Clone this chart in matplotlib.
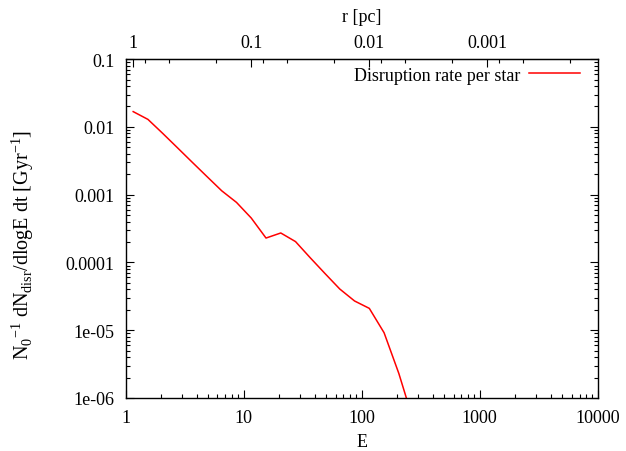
import numpy as np
import matplotlib
matplotlib.use("Agg")
from matplotlib import pyplot as plt
from matplotlib.ticker import FixedLocator, FixedFormatter

# data (E, rate per star)
energia = [1.16, 1.547, 2.063, 2.751, 3.668, 4.891, 6.523, 8.698, 11.6, 15.47,
           20.63, 27.51, 36.68, 48.91, 65.23, 86.98, 116.0, 154.7, 206.3, 275.1]
tasa = [0.0168, 0.0129, 0.00802, 0.00492, 0.00301, 0.00185, 0.00114, 7.69e-4,
        4.52e-4, 2.29e-4, 2.72e-4, 2.03e-4, 1.17e-4, 6.85e-5, 4.05e-5, 2.70e-5,
        2.10e-5, 9.18e-6, 2.30e-6, 4.5e-7]

x_ticks = [1, 10, 100, 1000, 10000]
x_labels = ["1", "10", "100", "1000", "10000"]
y_ticks = [1e-6, 1e-5, 1e-4, 1e-3, 1e-2, 1e-1]
y_labels = ["1e-06", "1e-05", "0.0001", "0.001", "0.01", "0.1"]
r_ticks = [1, 0.1, 0.01, 0.001]
r_labels = ["1", "0.1", "0.01", "0.001"]
r_minor = [0.8, 0.5, 0.2, 0.08, 0.05, 0.02, 0.008, 0.005, 0.002,
           0.0008, 0.0005, 0.0002]
e_por_r = 1.16  # E = 1.16 / r

plt.rcParams['font.family'] = ['Liberation Serif', 'DejaVu Serif']
plt.rcParams['mathtext.fontset'] = 'custom'
plt.rcParams['mathtext.rm'] = 'Liberation Serif'
plt.rcParams['font.size'] = 13


def graficar():
    fig = plt.figure(figsize=(6.26, 4.52), dpi=100)
    ax = fig.add_axes([0.2006, 0.1173, 0.7544, 0.7497])

    ax.plot(energia, tasa, color='r', lw=1.1, label="Disruption rate per star")
    ax.set_xscale('log')
    ax.set_yscale('log')
    ax.set_xlim(1, 10000)
    ax.set_ylim(1e-6, 0.1)

    ax.xaxis.set_major_locator(FixedLocator(x_ticks))
    ax.xaxis.set_major_formatter(FixedFormatter(x_labels))
    ax.yaxis.set_major_locator(FixedLocator(y_ticks))
    ax.yaxis.set_major_formatter(FixedFormatter(y_labels))

    ax.tick_params(which='both', direction='in', top=False, right=True, width=0.8)
    ax.tick_params(which='major', length=6, pad=8)
    ax.tick_params(which='minor', length=3)
    for s in ax.spines.values():
        s.set_linewidth(1.0)

    ax.set_xlabel("E", labelpad=5)
    ax.set_ylabel(r"N$_0$$^{-1}$ dN$_{\mathrm{disr}}$/dlogE dt [Gyr$^{-1}$]",
                  fontsize=14.5)
    ax.yaxis.set_label_coords(-0.19, 0.454)

    conv = (lambda e: e_por_r / e, lambda r: e_por_r / r)
    ax2 = ax.secondary_xaxis('top', functions=conv)
    ax2.xaxis.set_major_locator(FixedLocator(r_ticks))
    ax2.xaxis.set_major_formatter(FixedFormatter(r_labels))
    ax2.xaxis.set_minor_locator(FixedLocator(r_minor))
    ax2.xaxis.set_minor_formatter(FixedFormatter([]))
    ax2.tick_params(which='both', direction='in', width=0.8)
    ax2.tick_params(which='major', length=6, pad=6)
    ax2.tick_params(which='minor', length=3)
    ax2.set_xlabel("r [pc]", labelpad=9)

    ax.legend(loc='upper right', bbox_to_anchor=(0.977, 0.999), frameon=False,
              markerfirst=False, handlelength=2.8, handletextpad=0.5,
              borderaxespad=0.0, fontsize=13)

    fig.savefig("out.png", dpi=100)


if __name__ == "__main__":
    graficar()
